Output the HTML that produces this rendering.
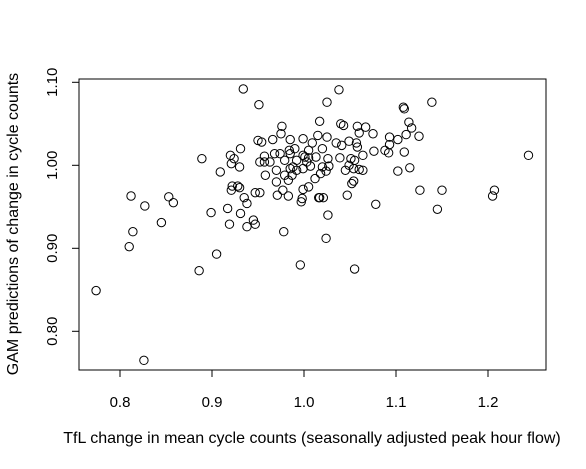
<!DOCTYPE html>
<html><head><meta charset="utf-8"><style>
html,body{margin:0;padding:0;background:#fff;}
svg{display:block;font-family:"Liberation Sans",Arial,sans-serif;}
</style></head><body>
<svg id="chart" width="586" height="469" viewBox="0 0 586 469" xmlns="http://www.w3.org/2000/svg">
<rect x="79" y="79" width="467" height="291" fill="none" stroke="#000" stroke-width="1"/>
<g id="xaxis"></g>
<g id="yaxis"></g>
<g id="points"></g>
<text x="312" y="443" font-size="16" text-anchor="middle">TfL change in mean cycle counts (seasonally adjusted peak hour flow)</text>
<text transform="translate(18,224) rotate(-90)" font-size="16" text-anchor="middle">GAM predictions of change in cycle counts</text>
</svg>
<script>
const xTicks=[0.8,0.9,1.0,1.1,1.2];
const xTickLabels=["0.8","0.9","1.0","1.1","1.2"];
const yTicks=[0.8,0.9,1.0,1.1];
const yTickLabels=["0.80","0.90","1.00","1.10"];
const xVals=[0.889,0.920,0.924,0.921,0.930,0.931,0.909,0.812,0.827,0.853,0.858,0.922,0.928,0.921,0.930,0.935,0.938,0.899,0.917,0.931,0.845,0.919,0.938,0.814,0.810,0.905,0.886,0.774,0.826,
0.934,0.951,0.976,0.975,0.985,0.950,0.954,0.966,0.999,0.957,0.968,0.974,0.984,0.990,0.985,0.952,0.957,0.963,0.979,0.992,1.001,0.970,0.958,0.979,0.985,0.988,0.992,0.987,0.983,0.970,0.999,1.003,0.947,0.952,0.971,0.977,0.983,0.999,1.005,
1.038,1.025,1.108,1.109,1.017,1.040,1.043,1.058,1.067,1.114,1.117,1.015,1.025,1.060,1.075,1.093,1.102,1.111,1.125,1.009,1.035,1.041,1.049,1.057,1.058,1.093,1.020,1.076,1.088,1.092,1.109,1.005,0.999,1.005,1.013,1.026,1.039,1.051,1.055,1.064,1.007,1.020,1.027,1.024,1.045,1.049,1.054,1.060,1.064,1.102,1.115,1.012,1.018,1.054,1.052,1.047,1.016,1.021,1.126,
0.945,0.947,0.998,0.997,1.017,1.078,1.026,0.978,1.024,0.996,1.055,1.139,1.244,1.150,1.207,1.205,1.145];
const yVals=[1.008,1.012,1.008,1.002,0.998,1.020,0.992,0.963,0.951,0.962,0.955,0.975,0.975,0.970,0.973,0.961,0.954,0.943,0.948,0.942,0.931,0.929,0.926,0.920,0.902,0.893,0.873,0.849,0.765,
1.092,1.073,1.047,1.038,1.031,1.030,1.028,1.031,1.032,1.011,1.014,1.014,1.018,1.020,1.014,1.004,1.004,1.004,1.006,1.006,1.010,0.994,0.988,0.988,0.996,0.998,0.994,0.988,0.982,0.980,0.996,1.004,0.967,0.967,0.964,0.970,0.963,0.971,0.974,
1.091,1.076,1.070,1.068,1.053,1.050,1.048,1.047,1.046,1.052,1.045,1.036,1.034,1.039,1.038,1.034,1.031,1.037,1.035,1.027,1.027,1.024,1.029,1.027,1.022,1.025,1.020,1.017,1.018,1.015,1.016,1.018,1.012,1.009,1.010,1.008,1.009,1.008,1.006,1.012,0.999,0.998,0.999,0.993,0.994,1.000,0.996,0.995,0.994,0.993,0.997,0.984,0.990,0.981,0.978,0.964,0.961,0.961,0.970,
0.934,0.929,0.960,0.956,0.961,0.953,0.940,0.920,0.912,0.880,0.875,1.076,1.012,0.970,0.970,0.963,0.947];
const NS="http://www.w3.org/2000/svg";
function xs(v){return 120+(v-0.8)*920;}
function ys(v){return 165.3-(v-1.0)*830;}
const xa=document.getElementById('xaxis');
const ya=document.getElementById('yaxis');
const pg=document.getElementById('points');
function mk(tag,attrs,parent){const e=document.createElementNS(NS,tag);for(const k in attrs)e.setAttribute(k,attrs[k]);parent.appendChild(e);return e;}
const xl=mk('line',{x1:xs(xTicks[0]),x2:xs(xTicks[xTicks.length-1]),y1:370,y2:370,stroke:'#000'},xa);


xTicks.forEach((t,i)=>{
  const tk=mk('line',{x1:xs(t),x2:xs(t),y1:370,y2:377,stroke:'#000'},xa);
  
  
  const tx=mk('text',{x:xs(t),y:407,'font-size':'15','text-anchor':'middle'},xa);
  tx.textContent=xTickLabels[i];
  
  
});
const yl=mk('line',{x1:79,x2:79,y1:ys(yTicks[0]),y2:ys(yTicks[yTicks.length-1]),stroke:'#000'},ya);


yTicks.forEach((t,i)=>{
  const tk=mk('line',{x1:72,x2:79,y1:ys(t),y2:ys(t),stroke:'#000'},ya);
  
  
  const tx=mk('text',{transform:'translate(57,'+ys(t)+') rotate(-90)','font-size':'15','text-anchor':'middle'},ya);
  tx.textContent=yTickLabels[i];
  
  
});
xVals.forEach((v,i)=>{
  const c=mk('circle',{cx:xs(v),cy:ys(yVals[i]),r:4.2,fill:'none',stroke:'#000','stroke-width':'1'},pg);
  
  
});
</script>
</body></html>
